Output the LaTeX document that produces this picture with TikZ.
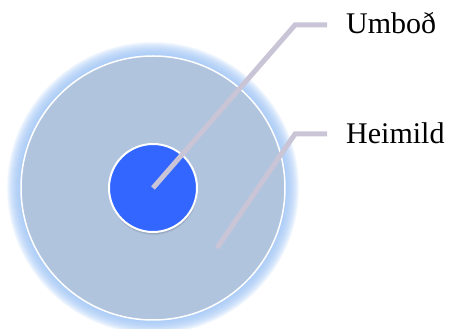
\documentclass[tikz,border=0pt]{standalone}
\usepackage{fontspec}
\setmainfont{Liberation Serif}
\definecolor{outerfill}{HTML}{B0C4DE}
\definecolor{innerfill}{HTML}{3366FF}
\definecolor{glowcol}{HTML}{9DC3F5}
\definecolor{leadcol}{HTML}{C9C5D6}
\tikzset{
  leader/.style={draw=leadcol, line width=5pt, line join=miter},
  label/.style={anchor=base west, inner sep=0pt, font=\fontsize{30}{36}\selectfont},
}
\begin{document}
\begin{tikzpicture}[x=1pt,y=1pt]
\useasboundingbox (0,0) rectangle (453,329);
% glow
\foreach \r in {132,133,...,146} {
  \fill[glowcol, opacity=0.12] (153,141) circle (\r);
}
\node[circle, fill=outerfill, draw=white, line width=1.5pt, minimum size=264pt, inner sep=0pt] (outer) at (153,141) {};
% inner shadow
\foreach \d in {1,2,3} {
  \fill[black, opacity=0.07] (153.5,141-\d) circle (44);
}
\node[circle, fill=innerfill, draw=white, line width=2pt, minimum size=88pt, inner sep=0pt] (inner) at (153,141) {};
\coordinate (p2) at (217,81);
\coordinate (b1) at (295,304);
\coordinate (e1) at (327,304);
\coordinate (b2) at (295,195);
\coordinate (e2) at (327,195);
\draw[leader] (inner.center) -- (b1) -- (e1);
\draw[leader] (p2) -- (b2) -- (e2);
\node[label] (umbod) at (346,295) {Umboð};
\node[label] (heimild) at (346,185) {Heimild};
\end{tikzpicture}
\end{document}
